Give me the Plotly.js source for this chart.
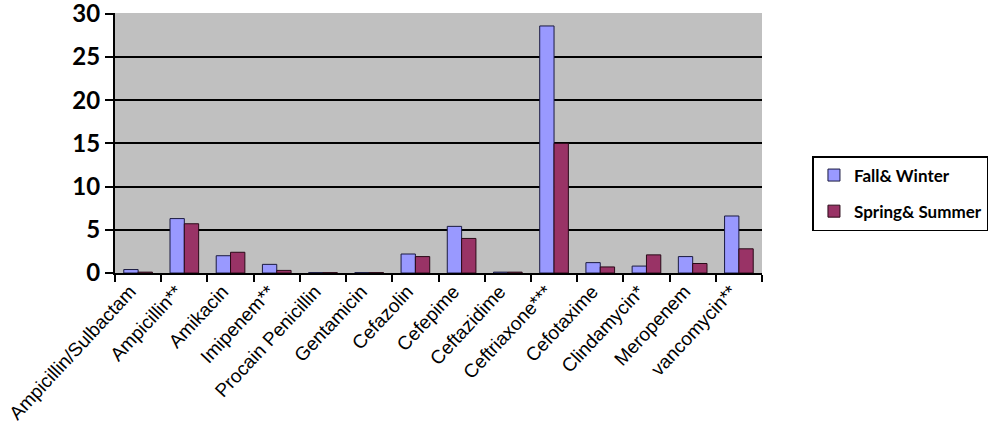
<!DOCTYPE html>
<html><head><meta charset="utf-8">
<script src="https://cdn.plot.ly/plotly-3.0.1.min.js"></script>
<style>html,body{margin:0;padding:0;background:#fff}#chart{width:1000px;height:439px}</style>
</head><body><div id="chart"></div>
<script>
const categories = ["Ampicillin/Sulbactam","Ampicillin**","Amikacin","Imipenem**","Procain Penicillin","Gentamicin","Cefazolin","Cefepime","Ceftazidime","Ceftriaxone***","Cefotaxime","Clindamycin*","Meropenem","vancomycin**"];
const fallWinter   = [0.4, 6.3, 2.0, 1.0, 0.05, 0.05, 2.2, 5.4, 0.1, 28.6, 1.2, 0.8, 1.9, 6.6];
const springSummer = [0.1, 5.7, 2.4, 0.3, 0.05, 0.05, 1.9, 4.0, 0.1, 15.0, 0.7, 2.1, 1.1, 2.8];
const yTicks = [0,5,10,15,20,25,30];

const traces = [
  {type:'bar', name:'Fall& Winter', x:categories, y:fallWinter, legendgroup:'a',
   marker:{color:'#9999FF', line:{color:'#1a1a40', width:1}}},
  {type:'bar', name:'Spring& Summer', x:categories, y:springSummer, legendgroup:'b',
   marker:{color:'#993366', line:{color:'#2a0a18', width:1}}}
];
const layout = {
  width:1000, height:439,
  margin:{l:115, r:235, t:13, b:166},
  paper_bgcolor:'#ffffff', plot_bgcolor:'#C0C0C0',
  barmode:'group', bargap:0.38, bargroupgap:0,
  showlegend:true,
  legend:{x:1.078, y:0.45, xanchor:'left', yanchor:'top', bgcolor:'#ffffff',
    bordercolor:'#000000', borderwidth:1.5, tracegroupgap:11,
    font:{family:'Lato, "Open Sans", sans-serif', size:17, color:'#000', weight:'bold'}},
  xaxis:{type:'category', tickangle:-47, tickson:'boundaries', ticks:'outside', ticklen:7,
    tickcolor:'#000', tickwidth:2, showline:true, linecolor:'#000', linewidth:2,
    showgrid:false, automargin:false, ticklabelshift:-8, ticklabelstandoff:-2,
    tickfont:{family:'Arial, "Liberation Sans", sans-serif', size:19, color:'#000'}},
  yaxis:{range:[0,30.1], tickvals:yTicks, ticks:'outside', ticklen:8, tickcolor:'#000', tickwidth:2,
    showline:true, linecolor:'#000', linewidth:2, showgrid:true, gridcolor:'#000', gridwidth:2,
    zeroline:false, automargin:false, ticklabeloverflow:'allow',
    tickfont:{family:'Lato, "Open Sans", sans-serif', size:24, color:'#000', weight:'bold'}}
};
Plotly.newPlot('chart', traces, layout, {displayModeBar:false, staticPlot:true});
</script></body></html>
